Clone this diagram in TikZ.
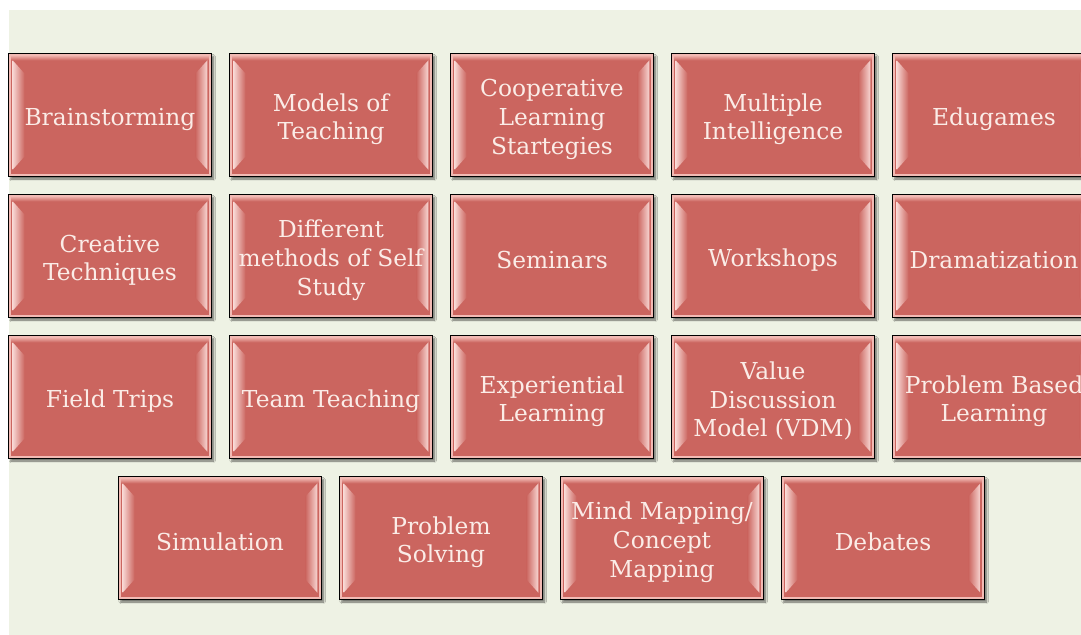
\documentclass[tikz,border=0pt]{standalone}
\usepackage{fontspec}
\setmainfont{DejaVu Serif}
\usepackage{tikz}
\usetikzlibrary{shadows,shadows.blur,positioning}
\usepackage{xcolor}
\definecolor{bggreen}{RGB}{238,242,228}
\definecolor{tilered}{RGB}{203,101,95}
\definecolor{tilelight}{RGB}{242,186,180}
\definecolor{tiletext}{RGB}{251,236,231}
\newcommand{\tilefont}{\fontsize{17.5pt}{21.5pt}\selectfont}
\tikzstyle{tile} = [draw=black, line width=0.9pt, fill=tilered,
  minimum width=152pt, minimum height=92pt, inner sep=0pt,
  blur shadow={shadow xshift=1.6pt, shadow yshift=-2pt, shadow blur steps=5,
    shadow blur radius=1.4pt, shadow opacity=55},
  path picture={
    \path (path picture bounding box.north west) coordinate (nw)
          (path picture bounding box.south east) coordinate (se);
    % top band
    \shade[top color=tilelight, bottom color=tilered]
      ([shift={(2pt,-1pt)}]nw) rectangle ([shift={(-2pt,-5pt)}]se |- nw);
    % side bevels
    \shade[left color=tilelight!60!white, right color=tilered]
      ([shift={(3pt,-5pt)}]nw) -- ([shift={(12pt,-15pt)}]nw)
      -- ([shift={(12pt,15pt)}]nw |- se) -- ([shift={(3pt,5pt)}]nw |- se) -- cycle;
    \shade[left color=tilered, right color=tilelight!60!white]
      ([shift={(-3pt,-5pt)}]se |- nw) -- ([shift={(-12pt,-15pt)}]se |- nw)
      -- ([shift={(-12pt,15pt)}]se) -- ([shift={(-3pt,5pt)}]se) -- cycle;
    \draw[tilelight, line width=1.6pt]
      ([shift={(1.2pt,-1.2pt)}]nw) rectangle ([shift={(-1.2pt,1.2pt)}]se);
  }]
\tikzstyle{tiletxt} = [align=center, text=tiletext, font=\tilefont, inner sep=0pt]
% box and its text, text set a little low as in the slide
\newcommand{\tilebox}[3]{%
  \node[tile] (#1) at (#2) {};
  \node[tiletxt] (#1-t) at ([yshift=-3.2pt]#1.center) {#3};}

\begin{document}
\begin{tikzpicture}[x=0.75pt, y=-0.75pt]
\useasboundingbox (0,0) rectangle (1081,635);
\clip (0,0) rectangle (1081,635);
\fill[bggreen] (9,10) rectangle (1081,635);

% Row 1
\tilebox{brain}{110,115}{Brainstorming}
\tilebox{models}{331,115}{Models of\\Teaching}
\tilebox{coop}{552,115}{Cooperative\\Learning\\Startegies}
\tilebox{multi}{773,115}{Multiple\\Intelligence}
\tilebox{edu}{994,115}{Edugames}

% Row 2
\tilebox{creative}{110,256}{Creative\\Techniques}
\tilebox{selfstudy}{331,256}{Different\\methods of Self\\Study}
\tilebox{seminars}{552,256}{Seminars}
\tilebox{workshops}{773,256}{Workshops}
\tilebox{drama}{994,256}{Dramatization}

% Row 3
\tilebox{field}{110,397}{Field Trips}
\tilebox{team}{331,397}{Team Teaching}
\tilebox{exper}{552,397}{Experiential\\Learning}
\tilebox{vdm}{773,397}{Value\\Discussion\\Model (VDM)}
\tilebox{pbl}{994,397}{Problem Based\\Learning}

% Row 4
\tilebox{sim}{220,538}{Simulation}
\tilebox{probsolv}{441,538}{Problem\\Solving}
\tilebox{mindmap}{662,538}{Mind Mapping/\\Concept\\Mapping}
\tilebox{debates}{883,538}{Debates}
\end{tikzpicture}
\end{document}
